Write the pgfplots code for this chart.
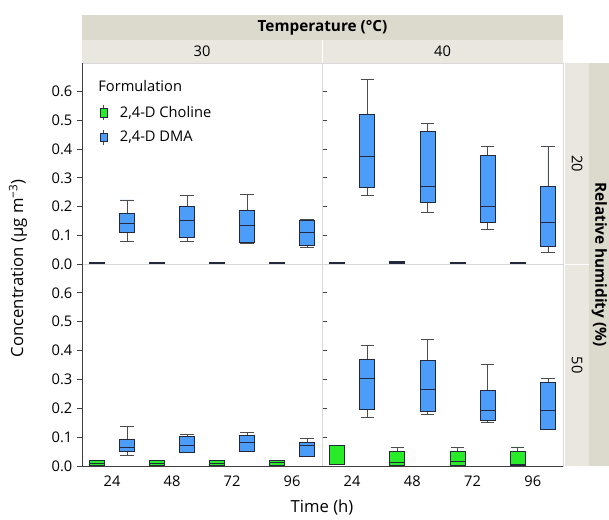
\documentclass[border=0pt]{standalone}
\usepackage{fontspec}
\setmainfont{Open Sans}
\usepackage{pgfplots}
\pgfplotsset{compat=1.18}
\usepgfplotslibrary{statistics}
\definecolor{cholgreen}{RGB}{40,236,40}
\definecolor{dmablue}{RGB}{76,156,250}
\definecolor{stripdark}{RGB}{220,218,205}
\definecolor{striplight}{RGB}{233,231,224}
\definecolor{boxedge}{RGB}{35,40,60}
\newcommand{\bx}[7]{\addplot[forget plot, fill=#7, draw=boxedge, line width=0.6pt,
  boxplot prepared={draw direction=y, draw position=#1, lower whisker=#2, lower quartile=#3, median=#4,
  upper quartile=#5, upper whisker=#6, box extend=0.25, whisker extend=0.22}] coordinates {};}
\pgfplotsset{
  boxplot/every whisker/.style={draw=black!70},
  panel/.style={
    scale only axis, xmin=-0.5, xmax=3.5, ymin=0, ymax=0.70,
    axis line style={black!15}, tick align=outside,
    ytick={0,0.1,0.2,0.3,0.4,0.5,0.6},
    xtick={0,1,2,3}, xticklabels={24,48,72,96},
    xtick style={draw=none}, ytick style={black!75, line width=0.6pt},
    major tick length=3.75pt,
    tick label style={font=\fontsize{11}{13}\selectfont},
    /pgf/number format/assume math mode=true,
    yticklabel style={/pgf/number format/.cd, fixed, fixed zerofill, precision=1},
    anchor=south west,
  },
  noy/.style={yticklabels={}, ytick style={draw=none}},
  nox/.style={xticklabels={}},
}
\begin{document}
\begin{tikzpicture}
\path[use as bounding box] (0,0) rectangle (456.75pt,389.25pt);
% strips
\fill[stripdark] (61.5pt,359.25pt) rectangle (422.25pt,378pt);
\fill[striplight] (61.5pt,342pt) rectangle (422.25pt,359.25pt);
\draw[white, line width=0.75pt] (241.5pt,342pt) -- (241.5pt,359.25pt);
\fill[striplight] (423.75pt,39.75pt) rectangle (441.75pt,342pt);
\draw[white, line width=0.75pt] (423.75pt,191.25pt) -- (441.75pt,191.25pt);
\fill[stripdark] (441.75pt,39.75pt) rectangle (456.75pt,342pt);
\node[font=\fontsize{11.5}{13}\selectfont\bfseries] at (241.9pt,368.6pt) {Temperature (°C)};
\node[font=\fontsize{11}{13}\selectfont] at (151.5pt,350.6pt) {30};
\node[font=\fontsize{11}{13}\selectfont] at (331.9pt,350.6pt) {40};
\node[font=\fontsize{11}{13}\selectfont, rotate=-90] at (432.75pt,266.6pt) {20};
\node[font=\fontsize{11}{13}\selectfont, rotate=-90] at (432.75pt,115.5pt) {50};
\node[font=\fontsize{11.5}{13}\selectfont\bfseries, rotate=-90] at (449.5pt,190.9pt) {Relative humidity (\%)};
\node[font=\fontsize{12.5}{14}\selectfont, rotate=90] at (13.5pt,188pt) {Concentration (µg m\textsuperscript{−3})};
\node[font=\fontsize{12.5}{14}\selectfont] at (241.5pt,8.5pt) {Time (h)};

% TL: 30 C, RH 20
\begin{axis}[panel, nox, name=tl, at={(61.5pt,191.25pt)}, width=180pt, height=150.75pt,
  legend style={at={(0.072,0.80)}, anchor=north west, draw=none, fill=none,
    font=\fontsize{11}{13}\selectfont, row sep=5pt, inner sep=0pt},
  legend cell align=left]
\addlegendimage{legend image code/.code={
  \draw[black!70, line width=0.6pt] (0.1cm,-0.2cm) -- (0.1cm,0.2cm);
  \filldraw[fill=cholgreen, draw=boxedge, line width=0.5pt] (0cm,-0.11cm) rectangle (0.2cm,0.11cm);
  \path (0.45cm,0);}}
\addlegendentry{2,4-D Choline}
\addlegendimage{legend image code/.code={
  \draw[black!70, line width=0.6pt] (0.1cm,-0.2cm) -- (0.1cm,0.2cm);
  \filldraw[fill=dmablue, draw=boxedge, line width=0.5pt] (0cm,-0.11cm) rectangle (0.2cm,0.11cm);
  \path (0.45cm,0);}}
\addlegendentry{2,4-D DMA}
\node[anchor=west, inner sep=0pt, font=\fontsize{11}{13}\selectfont] at (axis description cs:0.067,0.885) {Formulation};
\bx{-0.25}{0.002}{0.002}{0.003}{0.004}{0.004}{cholgreen}
\bx{0.75}{0.002}{0.002}{0.003}{0.004}{0.004}{cholgreen}
\bx{1.75}{0.002}{0.002}{0.003}{0.004}{0.004}{cholgreen}
\bx{2.75}{0.002}{0.002}{0.003}{0.004}{0.004}{cholgreen}
\bx{0.25}{0.077}{0.110}{0.143}{0.175}{0.223}{dmablue}
\bx{1.25}{0.077}{0.091}{0.153}{0.201}{0.238}{dmablue}
\bx{2.25}{0.071}{0.075}{0.133}{0.186}{0.242}{dmablue}
\bx{3.25}{0.058}{0.065}{0.110}{0.153}{0.155}{dmablue}
\end{axis}

% TR: 40 C, RH 20
\begin{axis}[panel, nox, noy, name=tr, at={(241.5pt,191.25pt)}, width=180.75pt, height=150.75pt]
\bx{-0.25}{0.002}{0.002}{0.004}{0.006}{0.006}{cholgreen}
\bx{0.75}{0.002}{0.002}{0.005}{0.009}{0.009}{cholgreen}
\bx{1.75}{0.002}{0.002}{0.004}{0.006}{0.006}{cholgreen}
\bx{2.75}{0.002}{0.002}{0.003}{0.004}{0.004}{cholgreen}
\bx{0.25}{0.238}{0.267}{0.374}{0.521}{0.642}{dmablue}
\bx{1.25}{0.179}{0.216}{0.271}{0.461}{0.491}{dmablue}
\bx{2.25}{0.120}{0.146}{0.202}{0.377}{0.410}{dmablue}
\bx{3.25}{0.040}{0.063}{0.146}{0.270}{0.410}{dmablue}
\end{axis}

% BL: 30 C, RH 50
\begin{axis}[panel, name=bl, at={(61.5pt,39.75pt)}, width=180pt, height=151.5pt]
\bx{-0.25}{0.002}{0.002}{0.010}{0.019}{0.020}{cholgreen}
\bx{0.75}{0.002}{0.002}{0.010}{0.019}{0.020}{cholgreen}
\bx{1.75}{0.001}{0.002}{0.010}{0.019}{0.020}{cholgreen}
\bx{2.75}{0.003}{0.003}{0.011}{0.020}{0.020}{cholgreen}
\bx{0.25}{0.036}{0.049}{0.063}{0.092}{0.136}{dmablue}
\bx{1.25}{0.047}{0.047}{0.070}{0.101}{0.110}{dmablue}
\bx{2.25}{0.052}{0.052}{0.081}{0.106}{0.116}{dmablue}
\bx{3.25}{0.034}{0.034}{0.072}{0.083}{0.094}{dmablue}
\end{axis}

% BR: 40 C, RH 50
\begin{axis}[panel, noy, name=br, at={(241.5pt,39.75pt)}, width=180.75pt, height=151.5pt]
\bx{-0.25}{0.006}{0.006}{0.006}{0.070}{0.070}{cholgreen}
\bx{0.75}{0.001}{0.001}{0.012}{0.051}{0.063}{cholgreen}
\bx{1.75}{0.001}{0.001}{0.017}{0.051}{0.063}{cholgreen}
\bx{2.75}{0.001}{0.001}{0.005}{0.051}{0.066}{cholgreen}
\bx{0.25}{0.167}{0.196}{0.304}{0.369}{0.419}{dmablue}
\bx{1.25}{0.179}{0.189}{0.267}{0.365}{0.438}{dmablue}
\bx{2.25}{0.150}{0.159}{0.193}{0.263}{0.353}{dmablue}
\bx{3.25}{0.128}{0.128}{0.193}{0.290}{0.304}{dmablue}
\end{axis}

\draw[black!75, line width=0.75pt] (61.5pt,342pt) -- (61.5pt,39.75pt) -- (422.25pt,39.75pt);
\end{tikzpicture}
\end{document}
